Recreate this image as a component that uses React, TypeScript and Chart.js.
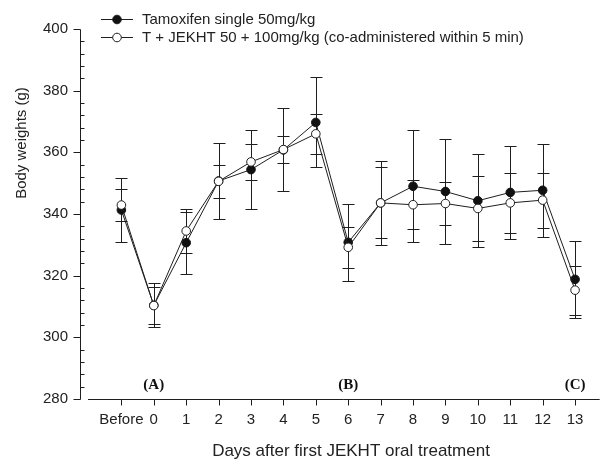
import React, { useEffect, useRef } from "react";
import { Chart, registerables } from "chart.js";

Chart.register(...registerables);

const categories = ["Before", "0", "1", "2", "3", "4", "5", "6", "7", "8", "9", "10", "11", "12", "13"];
const tamoxifenMean = [341.3, 310.4, 330.7, 350.7, 354.4, 360.8, 369.7, 330.8, 343.6, 349.0, 347.3, 344.3, 347.0, 347.7, 318.8];
const tamoxifenErr = [10.3, 7.2, 10.1, 12.3, 12.7, 13.5, 14.6, 12.4, 13.6, 18.2, 17.0, 15.0, 15.0, 15.0, 12.6];
const comboMean = [342.9, 310.3, 334.5, 350.6, 356.9, 360.9, 366.0, 329.2, 343.6, 343.0, 343.4, 341.8, 343.6, 344.5, 315.3];
const comboErr = [5.2, 6.0, 7.2, 5.3, 5.9, 4.5, 6.4, 6.6, 11.5, 8.0, 7.1, 10.6, 9.8, 8.9, 7.9];
const seriesNames = ["Tamoxifen single 50mg/kg", "T + JEKHT 50 + 100mg/kg (co-administered within 5 min)"];
const phaseLabels = ["(A)", "(B)", "(C)"];
const phaseCategories = ["0", "6", "13"];
const yMajorTicks = [280, 300, 320, 340, 360, 380, 400];
const yMinorStep = 4;
const xTitle = "Days after first JEKHT oral treatment";
const yTitle = "Body weights (g)";

const SANS = "'Liberation Sans', Arial, Helvetica, sans-serif";
const SERIF = "'Liberation Serif', 'Times New Roman', serif";
const INK = "#1e1e1e";

const catPos = (i: number) => i - 1;

const customPlugin = {
  id: "customDraw",
  beforeDatasetsDraw(chart: any) {
    const ctx = chart.ctx;
    const xs = chart.scales.x;
    const ys = chart.scales.y;
    ctx.save();
    ctx.strokeStyle = INK;
    ctx.lineWidth = 1;
    const drawErr = (means: number[], errs: number[]) => {
      means.forEach((m, i) => {
        const x = Math.round(xs.getPixelForValue(catPos(i))) + 0.5;
        const yt = Math.round(ys.getPixelForValue(m + errs[i])) + 0.5;
        const yb = Math.round(ys.getPixelForValue(m - errs[i])) + 0.5;
        ctx.beginPath();
        ctx.moveTo(x, yt);
        ctx.lineTo(x, yb);
        ctx.moveTo(x - 6, yt);
        ctx.lineTo(x + 6, yt);
        ctx.moveTo(x - 6, yb);
        ctx.lineTo(x + 6, yb);
        ctx.stroke();
      });
    };
    drawErr(tamoxifenMean, tamoxifenErr);
    drawErr(comboMean, comboErr);
    ctx.restore();
  },
  afterDraw(chart: any) {
    const ctx = chart.ctx;
    const xs = chart.scales.x;
    const ys = chart.scales.y;
    const area = chart.chartArea;
    ctx.save();
    ctx.strokeStyle = INK;
    ctx.lineWidth = 1;
    // y axis
    const yAxisX = Math.round(area.left - 8) + 0.5;
    ctx.beginPath();
    ctx.moveTo(yAxisX, Math.round(ys.getPixelForValue(ys.max)) + 0.5);
    ctx.lineTo(yAxisX, Math.round(ys.getPixelForValue(ys.min)) + 0.5);
    yMajorTicks.forEach((v) => {
      const y = Math.round(ys.getPixelForValue(v)) + 0.5;
      ctx.moveTo(yAxisX - 7, y);
      ctx.lineTo(yAxisX, y);
    });
    for (let v = ys.min; v <= ys.max; v += yMinorStep) {
      if (yMajorTicks.includes(v)) continue;
      const y = Math.round(ys.getPixelForValue(v)) + 0.5;
      ctx.moveTo(yAxisX, y);
      ctx.lineTo(yAxisX + 4, y);
    }
    // x axis
    const xAxisY = Math.round(area.bottom) + 0.5;
    ctx.moveTo(area.left, xAxisY);
    ctx.lineTo(area.right, xAxisY);
    categories.forEach((_, i) => {
      const x = Math.round(xs.getPixelForValue(catPos(i))) + 0.5;
      ctx.moveTo(x, xAxisY);
      ctx.lineTo(x, xAxisY + 6);
    });
    ctx.stroke();

    // phase labels
    ctx.fillStyle = "#111";
    ctx.font = `bold 15px ${SERIF}`;
    ctx.textAlign = "center";
    ctx.textBaseline = "middle";
    phaseLabels.forEach((lab, k) => {
      const idx = categories.indexOf(phaseCategories[k]);
      ctx.fillText(lab, xs.getPixelForValue(catPos(idx)), 385);
    });

    // axis titles
    ctx.fillStyle = "#222";
    ctx.font = `17px ${SANS}`;
    ctx.fillText(xTitle, 351, 451);
    ctx.save();
    ctx.translate(22, 143);
    ctx.rotate(-Math.PI / 2);
    ctx.font = `15px ${SANS}`;
    ctx.fillText(yTitle, 0, 0);
    ctx.restore();

    // legend
    const rows = [19.5, 37.5];
    rows.forEach((ry, k) => {
      ctx.strokeStyle = INK;
      ctx.lineWidth = 1;
      ctx.beginPath();
      ctx.moveTo(101, ry);
      ctx.lineTo(133, ry);
      ctx.stroke();
      ctx.beginPath();
      ctx.arc(117, ry, 4.3, 0, Math.PI * 2);
      ctx.fillStyle = k === 0 ? "#111" : "#fff";
      ctx.fill();
      ctx.stroke();
      ctx.fillStyle = "#222";
      ctx.font = `15px ${SANS}`;
      ctx.textAlign = "left";
      ctx.textBaseline = "middle";
      ctx.fillText(seriesNames[k], 142, ry);
    });
    ctx.restore();
  },
};

export default function App() {
  const canvasRef = useRef<HTMLCanvasElement | null>(null);

  useEffect(() => {
    if (!canvasRef.current) return;
    const chart = new Chart(canvasRef.current, {
      type: "line",
      data: {
        datasets: [
          {
            label: seriesNames[0],
            data: tamoxifenMean.map((v, i) => ({ x: catPos(i), y: v })),
            borderColor: INK,
            borderWidth: 1,
            backgroundColor: "#111",
            pointBackgroundColor: "#111",
            pointBorderColor: "#111",
            pointRadius: 4.3,
            pointBorderWidth: 1,
            tension: 0,
            order: 1,
          },
          {
            label: seriesNames[1],
            data: comboMean.map((v, i) => ({ x: catPos(i), y: v })),
            borderColor: INK,
            borderWidth: 1,
            backgroundColor: "#fff",
            pointBackgroundColor: "#fff",
            pointBorderColor: INK,
            pointRadius: 4.3,
            pointBorderWidth: 1,
            tension: 0,
            order: 0,
          },
        ],
      },
      options: {
        animation: false,
        responsive: false,
        maintainAspectRatio: false,
        layout: { padding: { top: 25, left: 0, right: 0, bottom: 0 } },
        plugins: { legend: { display: false }, tooltip: { enabled: false }, title: { display: false } },
        scales: {
          x: {
            type: "linear",
            min: -2.03,
            max: 13.76,
            grid: { display: false, drawTicks: false },
            border: { display: false },
            afterBuildTicks: (s: any) => {
              s.ticks = categories.map((_, i) => ({ value: catPos(i) }));
            },
            afterFit: (s: any) => {
              s.height = 60;
            },
            ticks: {
              autoSkip: false,
              maxRotation: 0,
              padding: 12,
              color: "#222",
              font: { family: SANS, size: 15 },
              callback: (_v: any, i: number) => categories[i],
            },
          },
          y: {
            type: "linear",
            min: 280,
            max: 400,
            grid: { display: false, drawTicks: false },
            border: { display: false },
            afterBuildTicks: (s: any) => {
              s.ticks = yMajorTicks.map((v) => ({ value: v }));
            },
            afterFit: (s: any) => {
              s.width = 88;
            },
            ticks: {
              padding: 20,
              color: "#222",
              font: { family: SANS, size: 15 },
            },
          },
        },
      },
      plugins: [customPlugin],
    });
    return () => chart.destroy();
  }, []);

  return (
    <div style={{ position: "absolute", left: 0, top: 0, width: 605, height: 459 }}>
      <canvas ref={canvasRef} width={605} height={459} style={{ width: 605, height: 459 }} />
    </div>
  );
}
